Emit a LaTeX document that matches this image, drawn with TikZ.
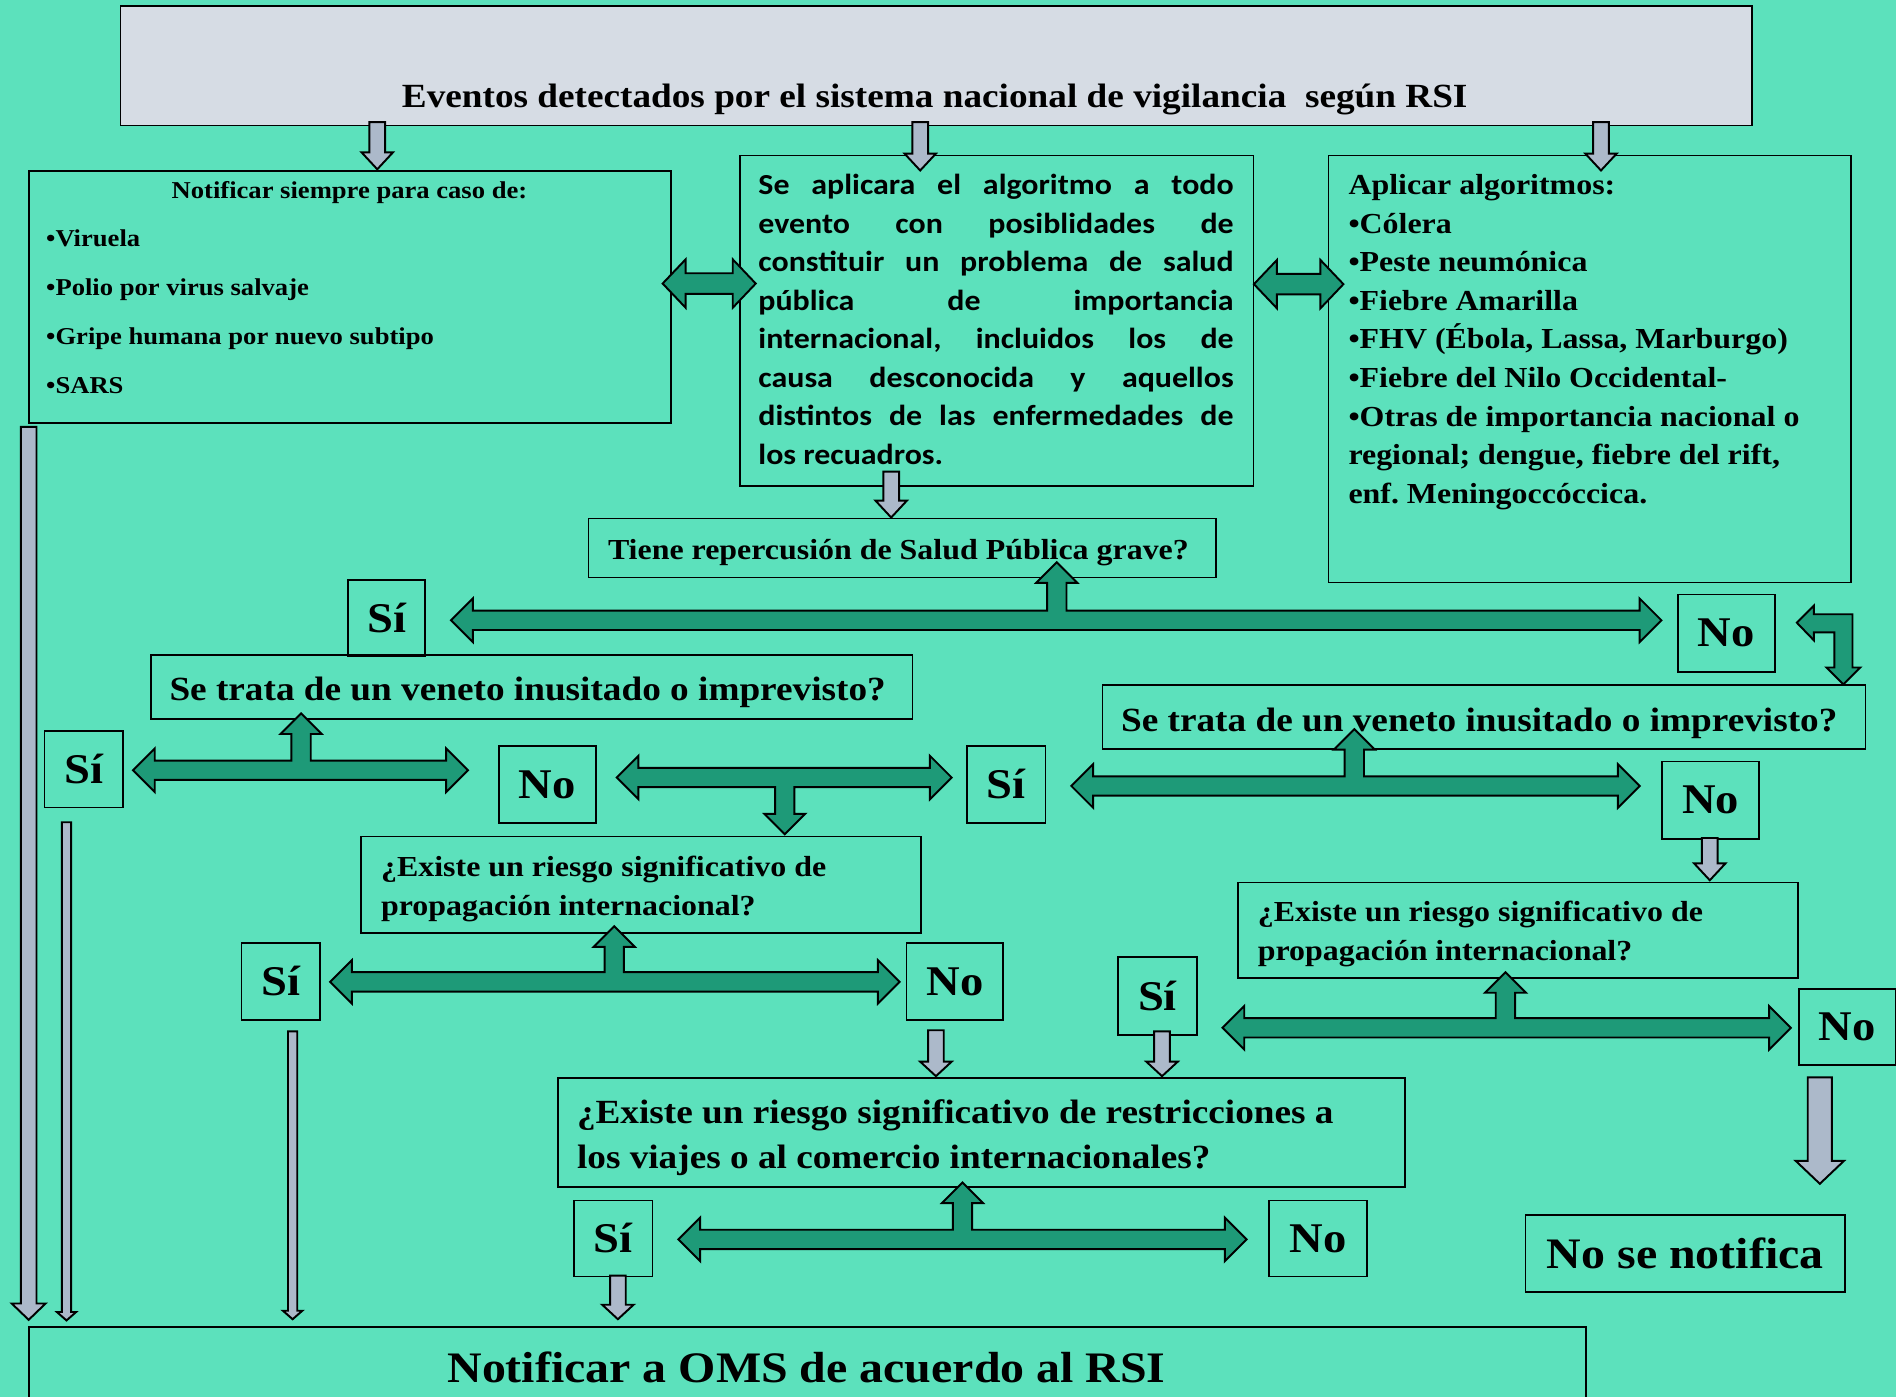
\documentclass[tikz,border=0pt]{standalone}
\usepackage{fontspec}
\setmainfont{Liberation Serif}[FakeStretch=1.1]
\newfontfamily\calib{Carlito}[FakeStretch=1.1]
\frenchspacing
\definecolor{bgc}{HTML}{5CE1BC}
\definecolor{arrgreen}{HTML}{1E9A78}
\definecolor{arrgrey}{HTML}{ACB9CA}
\definecolor{topgrey}{HTML}{D6DCE4}
\tikzset{
  boxst/.style={draw=black, line width=1.4pt, inner sep=0pt, anchor=north west},
  garrow/.style={draw=black, line width=1.6pt, fill=arrgreen, line join=miter},
  gyarrow/.style={draw=black, line width=1.6pt, fill=arrgrey, line join=miter},
  yn/.style={font=\bfseries\fontsize{35}{40}\selectfont, inner sep=0pt},
  q30/.style={font=\bfseries\fontsize{28}{34}\selectfont, inner sep=0pt, anchor=base west},
}
% box: name, x1, y1, x2, y2
\newcommand\bx[6][]{\node[boxst,#1, minimum width={(#4-#2)*1pt}, minimum height={(#5-#3)*1pt}] (#6) at (#2,#3) {};}
% T arrow with stem up: x1 x2 y xs yt
\newcommand\tup[5]{\draw[garrow] (#1,#3) -- ({#1+18},{#3-18}) -- ({#1+18},{#3-8}) -- ({#4-8},{#3-8}) -- ({#4-8},{#5+17}) -- ({#4-17},{#5+17}) -- (#4,#5) -- ({#4+17},{#5+17}) -- ({#4+8},{#5+17}) -- ({#4+8},{#3-8}) -- ({#2-18},{#3-8}) -- ({#2-18},{#3-18}) -- (#2,#3) -- ({#2-18},{#3+18}) -- ({#2-18},{#3+8}) -- ({#1+18},{#3+8}) -- ({#1+18},{#3+18}) -- cycle;}
% T arrow with stem down
\newcommand\tdown[5]{\draw[garrow] (#1,#3) -- ({#1+18},{#3-18}) -- ({#1+18},{#3-8}) -- ({#2-18},{#3-8}) -- ({#2-18},{#3-18}) -- (#2,#3) -- ({#2-18},{#3+18}) -- ({#2-18},{#3+8}) -- ({#4+8},{#3+8}) -- ({#4+8},{#5-17}) -- ({#4+17},{#5-17}) -- (#4,#5) -- ({#4-17},{#5-17}) -- ({#4-8},{#5-17}) -- ({#4-8},{#3+8}) -- ({#1+18},{#3+8}) -- ({#1+18},{#3+18}) -- cycle;}
% horizontal double arrow: x1 x2 y
\newcommand\hdbl[3]{\draw[garrow] (#1,#3) -- ({#1+19},{#3-20}) -- ({#1+19},{#3-8.5}) -- ({#2-19},{#3-8.5}) -- ({#2-19},{#3-20}) -- (#2,#3) -- ({#2-19},{#3+20}) -- ({#2-19},{#3+8.5}) -- ({#1+19},{#3+8.5}) -- ({#1+19},{#3+20}) -- cycle;}
% grey down arrow: x y1 y2 halfshaft halfhead headlength
\newcommand\gar[6]{\draw[gyarrow] ({#1-#4},#2) -- ({#1+#4},#2) -- ({#1+#4},{#3-#6}) -- ({#1+#5},{#3-#6}) -- (#1,#3) -- ({#1-#5},{#3-#6}) -- ({#1-#4},{#3-#6}) -- cycle;}
\begin{document}
\begin{tikzpicture}[x=1pt,y=-1pt]
\fill[bgc] (0,0) rectangle (1568,1155);
\useasboundingbox (0,0) rectangle (1568,1155);
% boxes
\bx[fill=topgrey]{99}{4}{1448}{103}{top}
\bx{23}{141}{554}{349}{lbox}
\bx{611}{128}{1036}{401}{mbox}
\bx{1098}{128}{1530}{481}{rbox}
\bx{486}{428}{1005}{477}{tiene}
\bx{287}{479}{351}{542}{siA}
\bx{1387}{491}{1467}{555}{noA}
\bx{124}{541}{754}{594}{trataL}
\bx{911}{566}{1542}{619}{trataR}
\bx{36}{604}{101}{667}{siB}
\bx{412}{616}{492}{680}{noB}
\bx{799}{616}{864}{680}{siC}
\bx{1374}{629}{1454}{693}{noC}
\bx{298}{691}{761}{771}{existL}
\bx{1023}{729}{1486}{808}{existR}
\bx{199}{779}{264}{843}{siD}
\bx{749}{779}{829}{843}{noD}
\bx{924}{791}{989}{855}{siE}
\bx{1487}{817}{1567}{880}{noE}
\bx{461}{891}{1161}{981}{restr}
\bx{474}{992}{539}{1055}{siF}
\bx{1049}{992}{1130}{1055}{noF}
\bx{1261}{1004}{1525}{1068}{nonot}
\bx{23}{1097}{1311}{1175}{notif}
% texts
\node[anchor=base, inner sep=0pt, font=\bfseries\fontsize{28}{32}\selectfont] (toptxt) at (773,89) {Eventos detectados por el sistema nacional de vigilancia\ \ según RSI};
\node[anchor=base, inner sep=0pt, font=\bfseries\fontsize{20}{24}\selectfont] (ltitle) at (289,164) {Notificar siempre para caso de:};
\node[anchor=base west, inner sep=0pt] (llist) at (38,204) {\begin{minipage}[t]{420pt}\bfseries\fontsize{20}{40.5}\selectfont\noindent
•Viruela\\
•Polio por virus salvaje\\
•Gripe humana por nuevo subtipo\\
•SARS\end{minipage}};
\node[anchor=base west, inner sep=0pt] (mtxt) at (627,161) {\begin{minipage}[t]{393pt}\calib\bfseries\fontsize{24}{31.86}\selectfont\noindent
\makebox[\linewidth][s]{Se aplicara el algoritmo a todo}\\
\makebox[\linewidth][s]{evento con posiblidades de}\\
\makebox[\linewidth][s]{constituir un problema de salud}\\
\makebox[\linewidth][s]{pública de importancia}\\
\makebox[\linewidth][s]{internacional, incluidos los de}\\
\makebox[\linewidth][s]{causa desconocida y aquellos}\\
\makebox[\linewidth][s]{distintos de las enfermedades de}\\
los recuadros.\end{minipage}};
\node[anchor=base west, inner sep=0pt] (rtxt) at (1115,161) {\begin{minipage}[t]{420pt}\bfseries\fontsize{24}{31.9}\selectfont\noindent
Aplicar algoritmos:\\
•Cólera\\
•Peste neumónica\\
•Fiebre Amarilla\\
•FHV (Ébola, Lassa, Marburgo)\\
•Fiebre del Nilo Occidental-\\
•Otras de importancia nacional o\\
regional; dengue, fiebre del rift,\\
enf. Meningoccóccica.\end{minipage}};
\node[anchor=base, inner sep=0pt, font=\bfseries\fontsize{24}{28}\selectfont] (tienetxt) at (743,463) {Tiene repercusión de Salud Pública grave?};
\node[q30] (trataLtxt) at (140,579) {Se trata de un veneto inusitado o imprevisto?};
\node[q30] (trataRtxt) at (927,605) {Se trata de un veneto inusitado o imprevisto?};
\node[anchor=base west, inner sep=0pt] (existLtxt) at (315,725) {\begin{minipage}[t]{440pt}\bfseries\fontsize{24}{32}\selectfont\noindent ¿Existe un riesgo significativo de\\ propagación internacional?\end{minipage}};
\node[anchor=base west, inner sep=0pt] (existRtxt) at (1040,762) {\begin{minipage}[t]{440pt}\bfseries\fontsize{24}{32}\selectfont\noindent ¿Existe un riesgo significativo de\\ propagación internacional?\end{minipage}};
\node[anchor=base west, inner sep=0pt] (restrtxt) at (477,929) {\begin{minipage}[t]{680pt}\bfseries\fontsize{28}{37}\selectfont\noindent ¿Existe un riesgo significativo de restricciones a\\ los viajes o al comercio internacionales?\end{minipage}};
\node[yn] (siAt) at (siA) {Sí};
\node[yn] (noAt) at (noA) {No};
\node[yn] (siBt) at (siB) {Sí};
\node[yn] (noBt) at (noB) {No};
\node[yn] (siCt) at (siC) {Sí};
\node[yn] (noCt) at (noC) {No};
\node[yn] (siDt) at (siD) {Sí};
\node[yn] (noDt) at (noD) {No};
\node[yn] (siEt) at (siE) {Sí};
\node[yn] (noEt) at (noE) {No};
\node[yn] (siFt) at (siF) {Sí};
\node[yn] (noFt) at (noF) {No};
\node[inner sep=0pt, font=\bfseries\fontsize{36}{40}\selectfont] (nonott) at (nonot) {No se notifica};
\node[anchor=base, inner sep=0pt, font=\bfseries\fontsize{36}{42}\selectfont] (notift) at (667,1143) {Notificar a OMS de acuerdo al RSI};
% green arrows
\hdbl{548}{625}{234.5}
\hdbl{1037}{1111}{235}
\tup{373}{1374}{513}{874}{465}
\tup{110}{387}{637}{249}{590}
\tdown{510}{787}{643}{649}{690}
\tup{886}{1356}{650}{1120}{603}
\tup{273}{744}{812}{508}{766}
\tup{1011}{1481}{850}{1245}{804}
\tup{561}{1031}{1025}{796}{978}
\draw[garrow] (1486,515) -- (1500,501) -- (1500,508) -- (1532,508) -- (1532,552) -- (1538.5,552) -- (1524.5,566) -- (1510.5,552) -- (1517,552) -- (1517,523) -- (1500,523) -- (1500,529.5) -- cycle;
% grey arrows
\gar{312}{101}{140}{6.5}{13}{14}
\gar{761}{101}{141}{6.5}{13}{14}
\gar{1324}{101}{141}{6.5}{13}{14}
\gar{737}{390}{428}{6.5}{13}{14}
\gar{1414}{693}{728}{6.5}{13}{14}
\gar{774}{852}{890}{6.5}{13}{12}
\gar{961}{853}{890}{6.5}{13}{12}
\gar{511}{1055}{1091}{6.5}{13}{12}
\gar{1505}{891}{979}{10}{20}{19}
\gar{23.7}{353}{1091.5}{6.5}{14}{13.5}
\gar{55}{680}{1092}{3.8}{8}{7}
\gar{242}{853}{1091}{3.8}{8}{7}
\end{tikzpicture}
\end{document}
